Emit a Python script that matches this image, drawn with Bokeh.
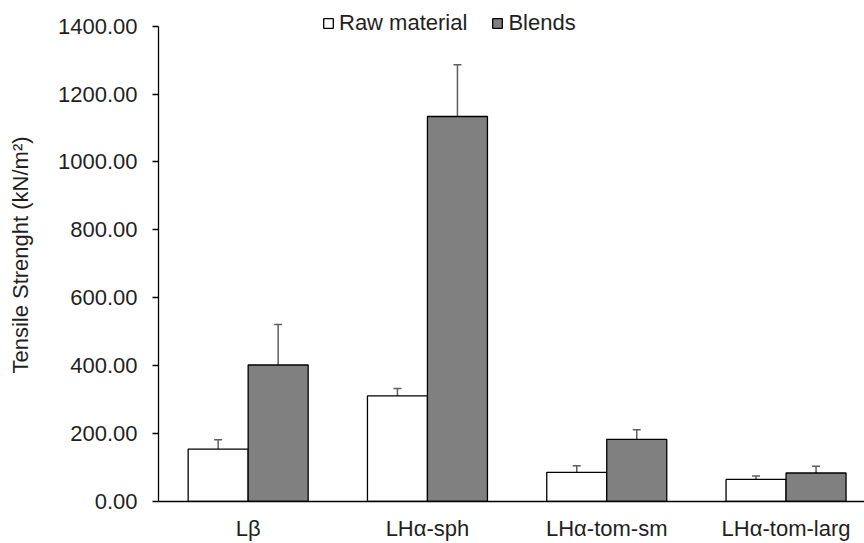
from bokeh.plotting import figure
from bokeh.models import (Range1d, FixedTicker, NumeralTickFormatter, Whisker,
                          ColumnDataSource, Legend, LegendItem, TeeHead)
from bokeh.embed import file_html
from bokeh.resources import INLINE

# ---- data ----
categories = ["Lβ", "LHα-sph", "LHα-tom-sm", "LHα-tom-larg"]
series_names = ["Raw material", "Blends"]
raw_values = [154, 311, 86, 65]
raw_errors = [28, 22, 19, 10]
blend_values = [402, 1134, 183, 84]
blend_errors = [119, 152, 28, 20]
y_ticks = [0, 200, 400, 600, 800, 1000, 1200, 1400]

FONT = "Liberation Sans"
TXT = "#1f1f1f"
ERR = "#5f5f5f"

W, H = 864, 543
LEFT, TOP, BOTTOM = 158, 8, 41
Y_MAX = y_ticks[-1]
# frame extends a little above the top tick so the legend is not clipped
plot_h = H - TOP - BOTTOM
axis_top_px = 25.7 - TOP
y_end = Y_MAX * plot_h / (plot_h - axis_top_px)

p = figure(width=W, height=H, output_backend="svg", toolbar_location=None,
           x_range=Range1d(-0.5, -0.5 + (W - LEFT) / 179.3),
           y_range=Range1d(0, y_end),
           min_border_left=LEFT, min_border_right=0, min_border_top=TOP,
           min_border_bottom=BOTTOM)
p.outline_line_color = None
p.grid.visible = False
p.background_fill_color = "white"

idx = list(range(len(categories)))
bw = 60 / 179.3

src_raw = ColumnDataSource(dict(x=[i - bw / 2 for i in idx], top=raw_values,
                                upper=[v + e for v, e in zip(raw_values, raw_errors)],
                                lower=[v - e for v, e in zip(raw_values, raw_errors)]))
src_bl = ColumnDataSource(dict(x=[i + bw / 2 for i in idx], top=blend_values,
                               upper=[v + e for v, e in zip(blend_values, blend_errors)],
                               lower=[v - e for v, e in zip(blend_values, blend_errors)]))

r1 = p.vbar(x="x", top="top", width=bw, bottom=0, source=src_raw,
            fill_color="white", line_color="black", line_width=1.3)
r2 = p.vbar(x="x", top="top", width=bw, bottom=0, source=src_bl,
            fill_color="#808080", line_color="black", line_width=1.3)

for s in (src_raw, src_bl):
    w = Whisker(base="x", upper="upper", lower="lower", source=s, dimension="height",
                line_color=ERR, line_width=1.5,
                upper_head=TeeHead(size=8, line_color=ERR, line_width=1.5),
                lower_head=TeeHead(size=8, line_color=ERR, line_width=1.5))
    p.add_layout(w)

# axes
ya = p.yaxis[0]
ya.ticker = FixedTicker(ticks=y_ticks)
ya.bounds = (0, Y_MAX)
ya.formatter = NumeralTickFormatter(format="0.00")
ya.minor_tick_line_color = None
ya.major_tick_out = 6
ya.major_tick_in = 0
ya.major_tick_line_color = "black"
ya.major_tick_line_width = 1.3
ya.axis_line_color = "black"
ya.axis_line_width = 1.3
ya.major_label_standoff = 15
ya.major_label_text_font = FONT
ya.major_label_text_font_size = "22px"
ya.major_label_text_color = TXT
ya.axis_label = "Tensile Strenght (kN/m²)"
ya.axis_label_text_font = FONT
ya.axis_label_text_font_size = "22px"
ya.axis_label_text_font_style = "normal"
ya.axis_label_text_color = TXT
ya.axis_label_standoff = 22

xa = p.xaxis[0]
xa.ticker = FixedTicker(ticks=idx)
xa.major_label_overrides = {i: c for i, c in zip(idx, categories)}
xa.minor_tick_line_color = None
xa.major_tick_out = 0
xa.major_tick_in = 0
xa.axis_line_color = "black"
xa.axis_line_width = 1.3
xa.major_label_standoff = 14
xa.major_label_text_font = FONT
xa.major_label_text_font_size = "22px"
xa.major_label_text_color = TXT

legend = Legend(items=[LegendItem(label=series_names[0], renderers=[r1]),
                       LegendItem(label=series_names[1], renderers=[r2])],
                location=(164, plot_h - 37 + TOP), orientation="horizontal",
                border_line_color=None, background_fill_alpha=0,
                padding=0, margin=0, spacing=24, label_standoff=5,
                glyph_width=12, glyph_height=12, label_height=20,
                label_text_font=FONT, label_text_font_size="22px",
                label_text_color=TXT)
p.add_layout(legend)

open("out.html", "w").write(file_html(p, INLINE))
